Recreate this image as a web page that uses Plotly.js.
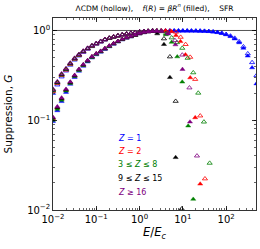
<!DOCTYPE html>
<html><head><meta charset="utf-8">
<script src="https://cdn.plot.ly/plotly-3.0.1.min.js"></script>
<style>html,body{margin:0;padding:0;background:#fff;} #chart{width:260px;height:249px;}</style>
</head><body><div id="chart"></div>
<script>
// shared energy grid E/E_c (10 points per decade)
const grid = [0.01, 0.0126, 0.0158, 0.02, 0.0251, 0.0316, 0.0398, 0.0501, 0.0631, 0.0794,
  0.1, 0.126, 0.158, 0.2, 0.251, 0.316, 0.398, 0.501, 0.631, 0.794,
  1, 1.26, 1.58, 2, 2.51, 3.16, 3.98, 5.01, 6.31, 7.94,
  10, 12.6, 15.8, 20, 25.1, 31.6, 39.8, 50.1, 63.1, 79.4,
  100, 126, 158, 200, 251, 316, 398, 501];

// Z = 1
const blueHollowRise = [0.2, 0.248, 0.305, 0.355, 0.412, 0.47, 0.522, 0.572, 0.62, 0.664, 0.705, 0.744, 0.785, 0.816, 0.843, 0.868, 0.892, 0.913, 0.931, 0.948, 0.964, 0.975, 0.982, 0.986, 0.988, 0.989, 0.99, 0.99,
  0.99, 0.99, 0.99, 0.99, 0.99, 0.989, 0.988,
  0.984, 0.978, 0.968, 0.955, 0.935, 0.907, 0.87, 0.822, 0.752, 0.66, 0.552, 0.44, 0.315];
const blueFilledRise = [0.097, 0.128, 0.162, 0.205, 0.252, 0.3, 0.352, 0.4, 0.447, 0.495, 0.537, 0.575, 0.617, 0.66, 0.703, 0.746, 0.788, 0.823, 0.851, 0.883, 0.919, 0.947, 0.968, 0.98, 0.986, 0.988, 0.989, 0.99,
  0.99, 0.99, 0.99, 0.99, 0.989, 0.988, 0.986,
  0.982, 0.975, 0.964, 0.95, 0.928, 0.898, 0.858, 0.806, 0.732, 0.635, 0.52, 0.385, 0.255];
const blueHollowTailE = [], blueHollowTailG = [];
const blueFilledTailE = [], blueFilledTailG = [];

// Z = 2
const redHollowRise = [0.21, 0.257, 0.316, 0.363, 0.42, 0.48, 0.53, 0.58, 0.627, 0.67, 0.711, 0.75, 0.79, 0.82, 0.847, 0.871, 0.895, 0.916, 0.933, 0.95, 0.966, 0.977, 0.984, 0.988, 0.99, 0.99, 0.99, 0.985];
const redHollowTailE = [6.93, 8.9, 11.6, 14.8, 19.3, 25.2, 32.4];
const redHollowTailG = [0.96, 0.843, 0.70, 0.505, 0.286, 0.112, 0.0223];
const redFilledRise = [0.104, 0.137, 0.172, 0.216, 0.262, 0.312, 0.365, 0.412, 0.459, 0.507, 0.548, 0.584, 0.626, 0.67, 0.713, 0.755, 0.796, 0.83, 0.857, 0.889, 0.924, 0.951, 0.97, 0.982, 0.988, 0.99, 0.988];
const redFilledTailE = [5.5, 6.93, 8.8, 11.5, 14.8, 19.3, 25.2];
const redFilledTailG = [0.975, 0.88, 0.755, 0.537, 0.298, 0.107, 0.0195];

// 3 <= Z <= 8
const greenHollowRise = [0.214, 0.262, 0.32, 0.368, 0.425, 0.484, 0.534, 0.584, 0.63, 0.673, 0.714, 0.753, 0.792, 0.822, 0.849, 0.873, 0.897, 0.918, 0.935, 0.952, 0.967, 0.978, 0.985, 0.988, 0.99, 0.985];
const greenHollowTailE = [4.07, 5.51, 7.3, 9.69, 12.9, 17.4, 22.7, 30.7, 41.6];
const greenHollowTailG = [0.93, 0.83, 0.735, 0.636, 0.492, 0.339, 0.201, 0.0958, 0.0333];
const greenFilledRise = [0.1, 0.133, 0.168, 0.212, 0.258, 0.308, 0.36, 0.408, 0.455, 0.503, 0.544, 0.58, 0.622, 0.666, 0.709, 0.751, 0.792, 0.826, 0.853, 0.885, 0.921, 0.949, 0.969, 0.981, 0.985];
const greenFilledTailE = [3.0, 4.07, 5.51, 7.43, 9.69, 13.3, 17.4];
const greenFilledTailG = [0.97, 0.90, 0.74, 0.51, 0.267, 0.0865, 0.0132];

// 9 <= Z <= 15
const blackHollowRise = [0.218, 0.265, 0.324, 0.372, 0.43, 0.488, 0.538, 0.588, 0.634, 0.677, 0.717, 0.756, 0.795, 0.825, 0.851, 0.875, 0.899, 0.92, 0.937, 0.953, 0.968, 0.978, 0.985, 0.988];
const blackHollowTailE = [2.56, 3.66, 5.03, 6.82, 9.38];
const blackHollowTailG = [0.97, 0.81, 0.51, 0.163, 0.0103];
const blackFilledRise = [0.106, 0.139, 0.175, 0.219, 0.265, 0.315, 0.368, 0.415, 0.462, 0.51, 0.551, 0.587, 0.628, 0.672, 0.715, 0.757, 0.798, 0.832, 0.859, 0.89, 0.925, 0.952, 0.97, 0.978];
const blackFilledTailE = [2.56, 3.66, 5.03, 6.82];
const blackFilledTailG = [0.92, 0.70, 0.30, 0.0385];

// Z >= 16
const purpleHollowRise = [0.222, 0.27, 0.33, 0.377, 0.435, 0.493, 0.543, 0.592, 0.638, 0.68, 0.72, 0.759, 0.798, 0.828, 0.854, 0.878, 0.901, 0.922, 0.939, 0.955, 0.969, 0.979, 0.985, 0.988, 0.99, 0.985];
const purpleHollowTailE = [4.5, 6.58, 9.7, 14.2, 21.2];
const purpleHollowTailG = [0.95, 0.774, 0.534, 0.23, 0.0401];
const purpleFilledRise = [0.108, 0.142, 0.178, 0.222, 0.268, 0.318, 0.371, 0.418, 0.465, 0.513, 0.554, 0.59, 0.631, 0.675, 0.717, 0.759, 0.8, 0.834, 0.861, 0.892, 0.926, 0.953, 0.971, 0.982, 0.986, 0.975];
const purpleFilledTailE = [4.6, 6.75, 9.8, 14.6];
const purpleFilledTailG = [0.915, 0.694, 0.369, 0.0958];

const zLabels = ['<i>Z</i> = 1', '<i>Z</i> = 2', '3 ≤ <i>Z</i> ≤ 8', '9 ≤ <i>Z</i> ≤ 15', '<i>Z</i> ≥ 16'];
const zColors = ['#0000ff', '#ff0000', '#008000', '#000000', '#800080'];
const xTickVals = [0.01, 0.1, 1, 10, 100];
const xTickText = ['10<sup>−2</sup>', '10<sup>−1</sup>', '10<sup>0</sup>', '10<sup>1</sup>', '10<sup>2</sup>'];
const yTickVals = [0.01, 0.1, 1];
const yTickText = ['10<sup>−2</sup>', '10<sup>−1</sup>', '10<sup>0</sup>'];

const groups = [
  [blueHollowRise, blueHollowTailE, blueHollowTailG, blueFilledRise, blueFilledTailE, blueFilledTailG],
  [redHollowRise, redHollowTailE, redHollowTailG, redFilledRise, redFilledTailE, redFilledTailG],
  [greenHollowRise, greenHollowTailE, greenHollowTailG, greenFilledRise, greenFilledTailE, greenFilledTailG],
  [blackHollowRise, blackHollowTailE, blackHollowTailG, blackFilledRise, blackFilledTailE, blackFilledTailG],
  [purpleHollowRise, purpleHollowTailE, purpleHollowTailG, purpleFilledRise, purpleFilledTailE, purpleFilledTailG]
];

const traces = [];
groups.forEach((g, i) => {
  const [hr, hte, htg, fr, fte, ftg] = g;
  traces.push({
    type: 'scatter', mode: 'markers', name: 'ΛCDM ' + zLabels[i],
    x: grid.slice(0, hr.length).concat(hte), y: hr.concat(htg),
    marker: {symbol: 'triangle-up-open', size: 4.5, color: zColors[i], line: {width: 0.8, color: zColors[i]}}
  });
  traces.push({
    type: 'scatter', mode: 'markers', name: 'f(R) ' + zLabels[i],
    x: grid.slice(0, fr.length).concat(fte), y: fr.concat(ftg),
    marker: {symbol: 'triangle-up', size: 4.5, color: zColors[i], line: {width: 0.4, color: zColors[i]}}
  });
});

const font = 'DejaVu Sans, Liberation Sans, sans-serif';
const axisCommon = {
  type: 'log', tickmode: 'array', ticks: 'inside', ticklen: 4, tickwidth: 0.8, tickcolor: '#000',
  showline: true, linecolor: '#000', linewidth: 0.8, mirror: 'ticks', showgrid: false, zeroline: false,
  tickfont: {size: 10, family: font, color: '#000'},
  minor: {ticks: 'inside', ticklen: 2, tickwidth: 0.6, tickcolor: '#000', dtick: 'D1', showgrid: false}
};

const annotations = zLabels.map((t, i) => ({
  xref: 'paper', yref: 'paper', x: 0.31, y: [0.371, 0.304, 0.236, 0.164, 0.091][i],
  xanchor: 'left', yanchor: 'middle', showarrow: false, text: t,
  font: {size: 8, family: font, color: zColors[i]}
}));

const layout = {
  width: 260, height: 249,
  margin: {l: 53, r: 4, t: 18, b: 38.5},
  paper_bgcolor: '#fff', plot_bgcolor: '#fff',
  showlegend: false,
  font: {family: font, color: '#000'},
  title: {
    text: 'ΛCDM (hollow),&nbsp;&nbsp;&nbsp; <i>f</i>(<i>R</i>) = <i>βR</i><sup><i>n</i></sup> (filled),&nbsp;&nbsp;&nbsp; SFR',
    font: {size: 7.5, family: font, color: '#000'},
    xref: 'paper', x: 0.5, xanchor: 'center', yref: 'container', y: 0.968, yanchor: 'middle'
  },
  xaxis: Object.assign({}, axisCommon, {
    range: [-2, 2.69], tickvals: xTickVals, ticktext: xTickText,
    title: {text: '<i>E</i>/<i>E</i><sub><i>c</i></sub>', font: {size: 11.5, family: font, color: '#000'}, standoff: 4}
  }),
  yaxis: Object.assign({}, axisCommon, {
    range: [-2, 0.139], tickvals: yTickVals, ticktext: yTickText,
    title: {text: 'Suppression, <i>G</i>', font: {size: 10.5, family: font, color: '#000'}, standoff: 12}
  }),
  shapes: [{type: 'line', xref: 'paper', x0: 0, x1: 1, yref: 'y', y0: 1, y1: 1, layer: 'below',
    line: {color: '#555', width: 1}}],
  annotations: annotations
};

Plotly.newPlot('chart', traces, layout, {staticPlot: true, displayModeBar: false});
</script></body></html>
